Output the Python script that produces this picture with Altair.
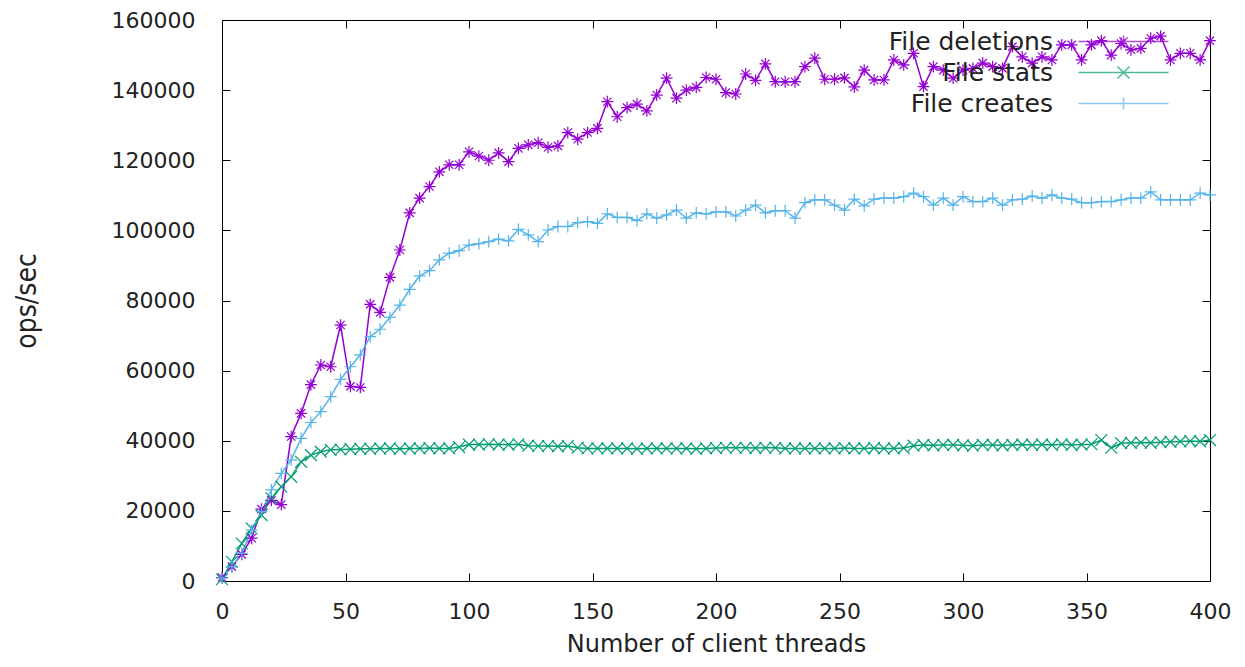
import altair as alt
import pandas as pd

threads = list(range(0, 401, 4))

deletions = [
    1000, 4100, 7600, 12200, 20500, 23000, 21800, 41200, 47800, 56000,
    61600, 61100, 73000, 55500, 55200, 78900, 76600, 86600, 94400, 105000,
    109200, 112500, 116700, 118700, 118700, 122400, 121200, 120000, 122100, 119600,
    123400, 124400, 125000, 123700, 124100, 127900, 126000, 127900, 129100, 136700,
    132400, 135000, 136000, 134100, 138600, 143400, 137700, 140000, 140800, 143600,
    143100, 139300, 138900, 144600, 142800, 147500, 142400, 142400, 142400, 146700,
    149100, 143100, 143100, 143500, 140900, 145700, 142900, 142900, 148600, 147200,
    150500, 141000, 146700, 145700, 143400, 145700, 146200, 147700, 146700, 146200,
    152400, 149500, 147700, 149500, 148600, 152900, 152900, 148600, 152900, 154100,
    150000, 153300, 151500, 151900, 154800, 155400, 148600, 150500, 150500, 148600,
    154100,
]

stats = [
    500, 5500, 10700, 15000, 18800, 23600, 26900, 29700, 34000, 35900,
    36900, 37400, 37500, 37600, 37700, 37700, 37800, 37800, 37700, 37800,
    37800, 37900, 37800, 37800, 38200, 38900, 38900, 39000, 38900, 38900,
    39000, 38600, 38500, 38500, 38400, 38500, 38000, 37800, 37800, 37800,
    37800, 37800, 37700, 37800, 37800, 37800, 37800, 37800, 37700, 37800,
    37900, 38000, 38000, 38000, 37900, 38000, 38000, 37800, 37800, 37800,
    37800, 37800, 37800, 37900, 37800, 37800, 37900, 37800, 37800, 37900,
    38600, 38800, 38700, 38800, 38800, 38700, 38600, 38800, 38800, 38700,
    38800, 38900, 38800, 38900, 38800, 39000, 38800, 38900, 39000, 40200,
    38000, 39300, 39400, 39500, 39400, 39600, 39700, 39800, 39900, 39800,
    40200,
]

creates = [
    800, 4100, 7900, 14500, 19800, 26000, 30700, 34500, 40700, 45200,
    48300, 52600, 57500, 61100, 64500, 69700, 71800, 75200, 78700, 83200,
    87000, 88500, 91600, 93500, 94200, 95800, 96200, 96800, 97500, 97000,
    100300, 98700, 96800, 100100, 101100, 101100, 102200, 102500, 102000, 104700,
    103700, 103700, 102800, 104700, 103500, 104400, 105800, 103500, 105000, 104700,
    105300, 105300, 104100, 105800, 107200, 105000, 105600, 105600, 103500, 107900,
    108700, 108700, 107200, 105800, 108900, 107000, 108900, 109200, 109200, 109600,
    110600, 109600, 107200, 109200, 107200, 109600, 108200, 108200, 109200, 107200,
    108700, 108900, 109800, 109200, 110100, 109200, 108900, 107900, 107900, 108200,
    108200, 108700, 109200, 109200, 111000, 108700, 108700, 108700, 108700, 110600,
    110100,
]

series_names = ["File deletions", "File stats", "File creates"]
series_colors = ["#9400d3", "#009e73", "#56b4e9"]
x_ticks = [0, 50, 100, 150, 200, 250, 300, 350, 400]
y_ticks = [0, 20000, 40000, 60000, 80000, 100000, 120000, 140000, 160000]

# marker glyphs (gnuplot pt 3 = asterisk, pt 2 = x, pt 1 = +)
marker_paths = [
    "M-1,0H1M0,-1V1M-0.7,-0.7L0.7,0.7M-0.7,0.7L0.7,-0.7",
    "M-1,-1L1,1M-1,1L1,-1",
    "M-1,0H1M0,-1V1",
]
# legend samples: a long line sample with the marker in its middle
legend_paths = [
    "M-7.5,0H7.5M0,-1V1M-0.7,-0.7L0.7,0.7M-0.7,0.7L0.7,-0.7",
    "M-7.5,0H7.5M-1,-1L1,1M-1,1L1,-1",
    "M-7.5,0H7.5M0,-1V1",
]

rows = []
for name, vals in zip(series_names, [deletions, stats, creates]):
    for t, v in zip(threads, vals):
        rows.append({"threads": t, "ops": v, "series": name, "marker": name})
df = pd.DataFrame(rows)

FONT = "DejaVu Sans"
NARROW = "Liberation Sans Narrow, DejaVu Sans Condensed, DejaVu Sans"

x_scale = alt.Scale(domain=[0, 400], nice=False, zero=False)
y_scale = alt.Scale(domain=[0, 160000], nice=False)
color_scale = alt.Scale(domain=series_names, range=series_colors)

base = alt.Chart(df)

lines = base.mark_line(strokeWidth=1.5).encode(
    x=alt.X(
        "threads:Q",
        scale=x_scale,
        axis=alt.Axis(
            orient="bottom", offset=-8, tickSize=8, domain=False, grid=False,
            values=x_ticks, labelFlush=False, labelFont=FONT, labelFontSize=22,
            labelColor="#222222", labelPadding=20, tickColor="black",
            title="Number of client threads", titleFont=FONT, titleFontSize=24,
            titleFontWeight="normal", titleColor="#222222", titlePadding=10,
        ),
    ),
    y=alt.Y(
        "ops:Q",
        scale=y_scale,
        axis=alt.Axis(
            orient="left", offset=-8, tickSize=8, domain=False, grid=False,
            values=y_ticks, format="d", labelFlush=False, labelFont=FONT,
            labelFontSize=22, labelColor="#222222", labelPadding=27,
            tickColor="black", title="ops/sec",
            titleFont=NARROW, titleFontSize=28, titleFontWeight="normal",
            titleColor="#222222", titlePadding=70,
        ),
    ),
    color=alt.Color("series:N", scale=color_scale, legend=None),
    detail="series:N",
)

points = base.mark_point(filled=False, strokeWidth=1.2, size=140, opacity=1).encode(
    x=alt.X(
        "threads:Q",
        scale=x_scale,
        axis=alt.Axis(
            orient="top", offset=-8, tickSize=8, domain=False, grid=False,
            values=x_ticks, labels=False, tickColor="black", title=None,
        ),
    ),
    y=alt.Y(
        "ops:Q",
        scale=y_scale,
        axis=alt.Axis(
            orient="right", offset=-8, tickSize=8, domain=False, grid=False,
            values=y_ticks, labels=False, tickColor="black", title=None,
        ),
    ),
    color=alt.Color("series:N", scale=color_scale, legend=None),
    shape=alt.Shape(
        "marker:N",
        scale=alt.Scale(domain=series_names, range=marker_paths),
        legend=None,
    ),
)

legend_props = dict(
    orient="none", legendX=889, legendY=9, direction="vertical",
    title=None, padding=0, labelFont=FONT, labelFontSize=25,
    labelColor="#222222", labelAlign="right", labelOffset={"expr": "-83"},
    labelLimit=500, symbolSize=144, symbolStrokeWidth=1.5,
    rowPadding=5,
)

legend_layer = base.transform_filter("false").mark_point(
    filled=False, strokeWidth=1.5
).encode(
    color=alt.Color("series:N", scale=color_scale, legend=alt.Legend(**legend_props)),
    shape=alt.Shape(
        "series:N",
        scale=alt.Scale(domain=series_names, range=legend_paths),
        legend=alt.Legend(**legend_props),
    ),
)

chart = (
    alt.layer(lines, points, legend_layer)
    .resolve_scale(shape="independent")
    .resolve_axis(x="independent", y="independent")
    .resolve_legend(color="independent", shape="independent")
    .properties(
        width=988,
        height=561,
        padding={"left": 214, "top": 12, "right": 27, "bottom": 78},
        autosize=alt.AutoSizeParams(type="none"),
        background="white",
    )
    .configure_view(stroke="black", strokeWidth=1)
)

chart.save("out.html", embed_options={"renderer": "svg", "actions": False})
